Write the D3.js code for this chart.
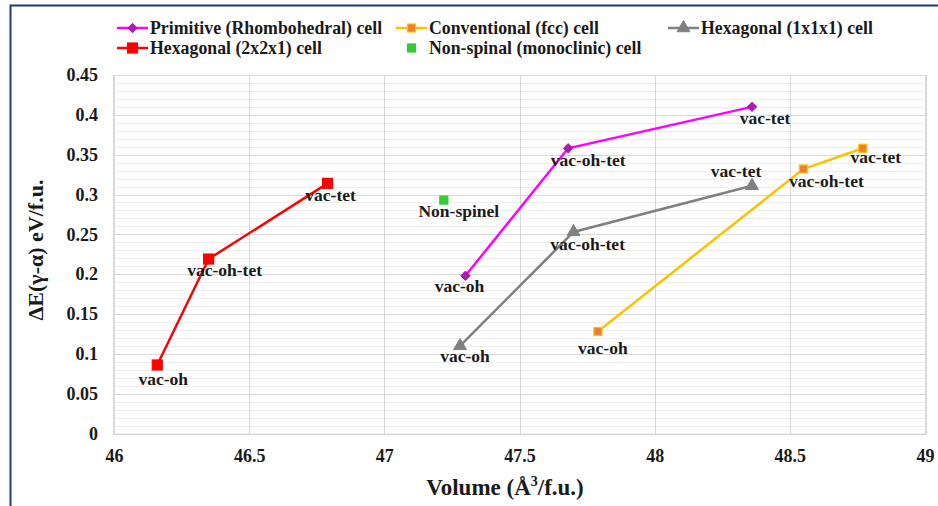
<!DOCTYPE html>
<html>
<head>
<meta charset="utf-8">
<script src="https://cdn.jsdelivr.net/npm/d3@7/dist/d3.min.js"></script>
<style>
  html, body { margin: 0; padding: 0; background: #fff; }
  svg { display: block; }
  text { font-family: "Liberation Serif", "Times New Roman", serif; font-weight: bold; fill: #1a1a1a; }
</style>
</head>
<body>
<svg id="chart" width="938" height="506"></svg>
<script>
// Vacancy configurations and their energies, per cell model
const pointLabels = ["vac-oh", "vac-oh-tet", "vac-tet"];

const primitiveVolume = [47.30, 47.68, 48.36];
const primitiveEnergy = [0.198, 0.358, 0.410];

const conventionalVolume = [47.79, 48.55, 48.77];
const conventionalEnergy = [0.128, 0.332, 0.358];

const hex111Volume = [47.28, 47.70, 48.36];
const hex111Energy = [0.110, 0.253, 0.311];

const hex221Volume = [46.16, 46.35, 46.79];
const hex221Energy = [0.086, 0.219, 0.314];

const nonSpinelVolume = [47.22];
const nonSpinelEnergy = [0.293];
const nonSpinelLabels = ["Non-spinel"];

const xTicks = [46, 46.5, 47, 47.5, 48, 48.5, 49];
const yTicks = [0, 0.05, 0.1, 0.15, 0.2, 0.25, 0.3, 0.35, 0.4, 0.45];

const seriesNames = [
  "Primitive (Rhombohedral) cell",
  "Conventional (fcc) cell",
  "Hexagonal (1x1x1) cell",
  "Hexagonal (2x2x1) cell",
  "Non-spinal (monoclinic) cell"
];

// ---- drawing ----
const svg = d3.select("#chart");
const W = 938, H = 506;
const plot = { left: 113, right: 926, top: 75, bottom: 433.5 };
const FONT = "'Liberation Serif', 'Times New Roman', serif";

const x = d3.scaleLinear().domain([46, 49]).range([plot.left + 1, plot.right - 1]);
const y = d3.scaleLinear().domain([0, 0.45]).range([plot.bottom, plot.top]);

// outer frame
svg.append("path")
  .attr("d", `M10.5,${H} V5.5 H${W}`)
  .attr("fill", "none").attr("stroke", "#1f3b7a").attr("stroke-width", 2);

// minor horizontal grid
const minor = d3.range(0, 0.4501, 0.01).filter(v => Math.abs(Math.round(v * 20) - v * 20) > 1e-6);
svg.append("g").selectAll("line").data(minor).join("line")
  .attr("x1", plot.left).attr("x2", plot.right)
  .attr("y1", d => Math.round(y(d)) + 0.5).attr("y2", d => Math.round(y(d)) + 0.5)
  .attr("stroke", "#eeeeee").attr("stroke-width", 1);

// major grid
svg.append("g").selectAll("line").data(yTicks).join("line")
  .attr("x1", plot.left).attr("x2", plot.right)
  .attr("y1", d => Math.round(y(d)) + 0.5).attr("y2", d => Math.round(y(d)) + 0.5)
  .attr("stroke", "#d9d9d9").attr("stroke-width", 1);
svg.append("g").selectAll("line").data(xTicks).join("line")
  .attr("y1", plot.top).attr("y2", plot.bottom)
  .attr("x1", d => Math.round(x(d)) + 0.5).attr("x2", d => Math.round(x(d)) + 0.5)
  .attr("stroke", "#d9d9d9").attr("stroke-width", 1);

// plot area border
svg.append("rect")
  .attr("x", plot.left + 0.5).attr("y", plot.top + 0.5)
  .attr("width", plot.right - plot.left).attr("height", plot.bottom - plot.top)
  .attr("fill", "none").attr("stroke", "#d9d9d9");

// axes (labels only, via d3 axis generators)
function styleTicks(g) {
  g.select(".domain").remove();
  g.attr("font-family", null).attr("font-size", null);
  g.selectAll("text")
    .style("font-family", FONT).style("font-weight", "bold").style("font-size", "18px")
    .style("fill", "#1a1a1a");
}
const xAxis = d3.axisBottom(x).tickValues(xTicks).tickFormat(d3.format("")).tickSize(0).tickPadding(0);
const gx = svg.append("g").attr("transform", `translate(0,${plot.bottom + 22})`).call(xAxis);
styleTicks(gx);
gx.selectAll("text").attr("y", 0).attr("dy", "0.35em");

const yAxis = d3.axisLeft(y).tickValues(yTicks).tickFormat(d3.format("")).tickSize(0).tickPadding(0);
const gy = svg.append("g").attr("transform", `translate(98,0)`).call(yAxis);
styleTicks(gy);

// axis titles
const xt = svg.append("text").attr("x", 505).attr("y", 495).attr("text-anchor", "middle")
  .style("font-size", "23px");
xt.append("tspan").text("Volume (Å");
xt.append("tspan").style("font-size", "14px").attr("dy", -9).text("3");
xt.append("tspan").attr("dy", 9).text("/f.u.)");

svg.append("text")
  .attr("transform", "translate(43,250) rotate(-90)")
  .attr("text-anchor", "middle").style("font-size", "22px")
  .text("ΔE(γ-α) eV/f.u.");

// marker symbols
function marker(g, kind, px, py, fill, stroke) {
  if (kind === "diamond") {
    g.append("path").attr("d", d3.symbol(d3.symbolDiamond2, 56)())
      .attr("transform", `translate(${px},${py})`).attr("fill", fill).attr("stroke", stroke).attr("stroke-width", 1);
  } else if (kind === "triangle") {
    g.append("path").attr("d", d3.symbol(d3.symbolTriangle, 72)())
      .attr("transform", `translate(${px},${py})`).attr("fill", fill).attr("stroke", stroke).attr("stroke-width", 1);
  } else {
    const s = kind === "bigsquare" ? 10 : 8;
    g.append("rect").attr("x", px - s / 2).attr("y", py - s / 2).attr("width", s).attr("height", s)
      .attr("fill", fill).attr("stroke", stroke).attr("stroke-width", 1.2);
  }
}

// label offsets (dx, dy of label centre from its point)
const labelShift = {
  primitive: [[-6, 10], [20, 12], [13, 11]],
  conventional: [[5, 16], [23, 12], [13, 9]],
  hex111: [[5, 10], [14, 12], [-16, -15]],
  hex221: [[6, 14], [16, 11], [3, 12]],
  nonSpinel: [[15, 11]]
};

const series = [
  { key: "primitive", xs: primitiveVolume, ys: primitiveEnergy, labels: pointLabels,
    line: "#ff00ff", kind: "diamond", fill: "#a51fb0", stroke: "#c000c8" },
  { key: "conventional", xs: conventionalVolume, ys: conventionalEnergy, labels: pointLabels,
    line: "#ffc000", kind: "square", fill: "#ed7d31", stroke: "#ffc000" },
  { key: "hex111", xs: hex111Volume, ys: hex111Energy, labels: pointLabels,
    line: "#808080", kind: "triangle", fill: "#808080", stroke: "#808080" },
  { key: "hex221", xs: hex221Volume, ys: hex221Energy, labels: pointLabels,
    line: "#ff0000", kind: "bigsquare", fill: "#ff0000", stroke: "#ff0000" },
  { key: "nonSpinel", xs: nonSpinelVolume, ys: nonSpinelEnergy, labels: nonSpinelLabels,
    line: null, kind: "square", fill: "#33cc33", stroke: "#33cc33" }
];

const lineGen = d3.line().x(d => x(d[0])).y(d => y(d[1]));
const marks = svg.append("g");
series.forEach(s => {
  const pts = s.xs.map((v, i) => [v, s.ys[i]]);
  if (s.line) {
    marks.append("path").datum(pts).attr("d", lineGen)
      .attr("fill", "none").attr("stroke", s.line).attr("stroke-width", 2.5);
  }
});
series.forEach(s => {
  s.xs.forEach((v, i) => marker(marks, s.kind, x(v), y(s.ys[i]), s.fill, s.stroke));
});
series.forEach(s => {
  s.xs.forEach((v, i) => {
    const [dx, dy] = labelShift[s.key][i];
    marks.append("text")
      .attr("x", x(v) + dx).attr("y", y(s.ys[i]) + dy)
      .attr("text-anchor", "middle").attr("dominant-baseline", "central")
      .style("font-size", "17.5px").text(s.labels[i]);
  });
});

// legend
const legendPos = [
  { lx: 117, tx: 150, cy: 28 },
  { lx: 396, tx: 429, cy: 28 },
  { lx: 668, tx: 701, cy: 28 },
  { lx: 117, tx: 150, cy: 48 },
  { lx: 396, tx: 429, cy: 48 }
];
const lg = svg.append("g");
series.forEach((s, i) => {
  const p = legendPos[i];
  if (s.line) {
    lg.append("line").attr("x1", p.lx).attr("x2", p.lx + 31).attr("y1", p.cy).attr("y2", p.cy)
      .attr("stroke", s.line).attr("stroke-width", 2.5);
  }
  marker(lg, s.kind, p.lx + 15.5, p.cy, s.fill, s.stroke);
  lg.append("text").attr("x", p.tx).attr("y", p.cy).attr("dominant-baseline", "central")
    .style("font-size", "17.8px").text(seriesNames[i]);
});
</script>
</body>
</html>
